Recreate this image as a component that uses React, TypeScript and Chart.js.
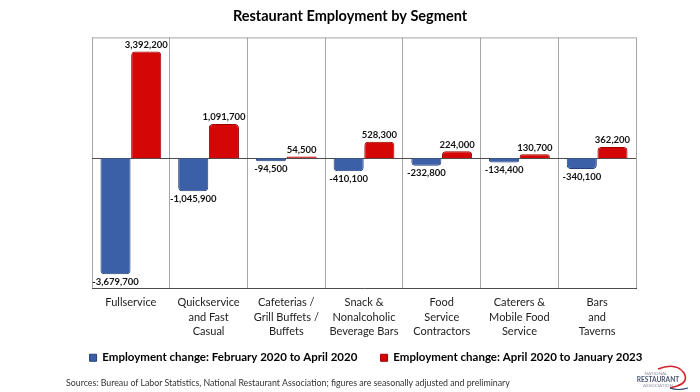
import React, { useEffect, useRef } from "react";
import { Chart, registerables } from "chart.js";

Chart.register(...registerables);

const FONT = "Lato, 'Open Sans', sans-serif";

const categories: string[][] = [
  ["Fullservice"],
  ["Quickservice", "and Fast", "Casual"],
  ["Cafeterias /", "Grill Buffets /", "Buffets"],
  ["Snack &", "Nonalcoholic", "Beverage Bars"],
  ["Food", "Service", "Contractors"],
  ["Caterers &", "Mobile Food", "Service"],
  ["Bars", "and", "Taverns"],
];

const febToApr2020 = [-3679700, -1045900, -94500, -410100, -232800, -134400, -340100];
const aprToJan2023 = [3392200, 1091700, 54500, 528300, 224000, 130700, 362200];

const seriesNames = [
  "Employment change: February 2020 to April 2020",
  "Employment change: April 2020 to January 2023",
];

const titleText = "Restaurant Employment by Segment";
const sourceText =
  "Sources: Bureau of Labor Statistics, National Restaurant Association; figures are seasonally adjusted and preliminary";

const yMin = -4120000;
const yMax = 3840000;

const valueLabels = {
  id: "valueLabels",
  afterDatasetsDraw(chart: any) {
    const ctx = chart.ctx;
    ctx.save();
    ctx.font = `bold 9.5px ${FONT}`;
    ctx.fillStyle = "#111";
    ctx.textAlign = "center";
    chart.data.datasets.forEach((ds: any, di: number) => {
      const meta = chart.getDatasetMeta(di);
      meta.data.forEach((el: any, i: number) => {
        const v = ds.data[i] as number;
        const txt = v.toLocaleString("en-US");
        if (v >= 0) {
          ctx.textBaseline = "bottom";
          ctx.fillText(txt, el.x, el.y - 2);
        } else {
          ctx.textBaseline = "top";
          ctx.fillText(txt, el.x, el.y + 3);
        }
      });
    });
    ctx.restore();
  },
};

const frame = {
  id: "frame",
  beforeDatasetsDraw(chart: any) {
    const { ctx, chartArea } = chart;
    ctx.save();
    ctx.strokeStyle = "#a6a6a6";
    ctx.lineWidth = 1;
    ctx.beginPath();
    ctx.moveTo(chartArea.left, chartArea.top + 0.5);
    ctx.lineTo(chartArea.right, chartArea.top + 0.5);
    ctx.stroke();
    const y0 = Math.round(chart.scales.y.getPixelForValue(0)) + 0.5;
    ctx.strokeStyle = "#4d4d4d";
    ctx.beginPath();
    ctx.moveTo(chartArea.left, y0);
    ctx.lineTo(chartArea.right, y0);
    ctx.stroke();
    ctx.restore();
  },
};

// shift the legend row a little to the right, as in the reference
const legendShift = {
  id: "legendShift",
  afterLayout(chart: any) {
    const lg = chart.legend;
    if (lg) {
      lg.left += 16;
      lg.right += 16;
    }
  },
};

export default function App() {
  const ref = useRef<HTMLCanvasElement | null>(null);

  useEffect(() => {
    document.body.style.margin = "0";
    const canvas = ref.current;
    if (!canvas) return;
    const defaultGen = (Chart as any).defaults.plugins.legend.labels.generateLabels;
    const chart = new Chart(canvas, {
      type: "bar",
      data: {
        labels: categories,
        datasets: [
          {
            label: seriesNames[0],
            data: febToApr2020,
            backgroundColor: "#3c60a8",
            borderColor: "#263f78",
            borderWidth: 1,
            borderRadius: 4,
            borderSkipped: "start",
            categoryPercentage: 0.79,
            barPercentage: 0.98,
          },
          {
            label: seriesNames[1],
            data: aprToJan2023,
            backgroundColor: "#d40606",
            borderColor: "#9c0000",
            borderWidth: 1,
            borderRadius: 4,
            borderSkipped: "start",
            categoryPercentage: 0.79,
            barPercentage: 0.98,
          },
        ],
      },
      options: {
        animation: false,
        responsive: false,
        maintainAspectRatio: false,
        layout: { padding: { top: 0, bottom: 18.5, left: 0, right: 0 } },
        plugins: {
          title: {
            display: true,
            text: titleText,
            color: "#000",
            font: { family: FONT, size: 14.5, weight: "bold" },
            padding: { top: 8, bottom: 12 },
          },
          legend: {
            display: true,
            position: "bottom",
            labels: {
              color: "#000",
              font: { family: FONT, size: 11.5, weight: "bold" },
              boxWidth: 7,
              boxHeight: 7,
              padding: 6,
              generateLabels: (c: any) =>
                defaultGen(c).map((it: any, i: number) => ({
                  ...it,
                  text: i === 0 ? it.text + "\u2003\u2003" : it.text,
                })),
            },
          },
          tooltip: { enabled: false },
        },
        scales: {
          x: {
            grid: { color: "#a6a6a6", offset: true, drawTicks: false },
            border: { display: true, color: "#4d4d4d", width: 1 },
            ticks: {
              color: "#222",
              font: { family: FONT, size: 11, lineHeight: 1.3 },
              padding: 7.5,
              maxRotation: 0,
              autoSkip: false,
            },
          },
          y: {
            type: "linear",
            min: yMin,
            max: yMax,
            display: true,
            grid: { display: false },
            border: { display: false },
            ticks: { display: false },
            afterFit: (s: any) => {
              s.width = 92;
            },
          },
          yR: {
            type: "linear",
            position: "right",
            display: true,
            grid: { display: false },
            border: { display: false },
            ticks: { display: false },
            afterFit: (s: any) => {
              s.width = 64;
            },
          },
        },
      } as any,
      plugins: [frame, valueLabels, legendShift],
    });
    return () => chart.destroy();
  }, []);

  return (
    <div style={{ position: "relative", width: 700, height: 392, background: "#fff", overflow: "hidden" }}>
      <canvas ref={ref} width={700} height={392} style={{ display: "block" }} />
      <div
        style={{
          position: "absolute",
          left: 66,
          top: 377,
          fontFamily: FONT,
          fontSize: 8.8,
          lineHeight: "12px",
          color: "#333",
          whiteSpace: "nowrap",
        }}
      >
        {sourceText}
      </div>
      <svg width={60} height={28} viewBox="0 0 60 28" style={{ position: "absolute", left: 632, top: 364 }}>
        <path d="M26 5 Q44 -2 52 9 Q57 18 45 22 L38 24" fill="none" stroke="#d2232a" strokeWidth={1.6} />
        <path d="M38 24 Q46 27 56 24" fill="none" stroke="#2a3f6e" strokeWidth={1.1} />
        <text x={24} y={11} fontSize={4.6} fill="#8a8fa0" textAnchor="middle" fontFamily="Lato, sans-serif">NATIONAL</text>
        <text x={26} y={17.5} fontSize={6.6} fill="#4b5672" fontWeight="bold" textAnchor="middle" fontFamily="Lato, sans-serif">RESTAURANT</text>
        <text x={26} y={23} fontSize={4.6} fill="#8a8fa0" textAnchor="middle" fontFamily="Lato, sans-serif">ASSOCIATION</text>
      </svg>
    </div>
  );
}
